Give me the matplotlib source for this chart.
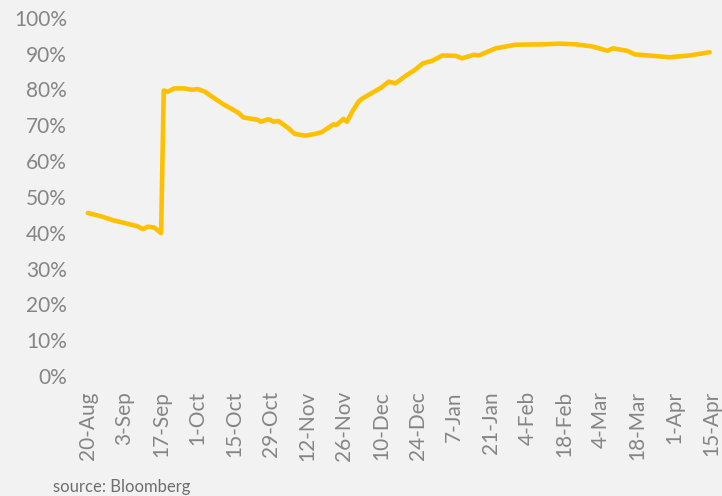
import matplotlib
matplotlib.use("Agg")
import matplotlib.pyplot as plt
import numpy as np
import pandas as pd

# Data (days after 20-Aug-2018, value in %)
day_offsets = [0, 5, 10, 13, 19, 21, 23, 25.5, 28, 29, 30.6, 33, 37, 39.6, 42, 44.7, 47,
               51.7, 57.5, 59.4, 65, 66, 69, 71, 72.8, 76.6, 79, 83, 86.9, 89.4, 93.9,
               95, 97.7, 99, 101, 103.4, 104.7, 108.5, 112, 115, 117.5, 122, 125, 128,
               131.5, 135.4, 140.5, 143, 147.5, 149.4, 155.8, 163.5, 173.7, 180, 186.5,
               192.8, 198.6, 200.5, 206, 209, 215.8, 222, 229.9, 237.5]
values = [45.5, 44.6, 43.4, 42.9, 41.8, 41.0, 41.7, 41.4, 39.9, 79.7, 79.4, 80.3, 80.3,
          79.9, 80.1, 79.4, 78.2, 75.9, 73.5, 72.2, 71.5, 71.0, 71.7, 71.0, 71.2, 69.2,
          67.6, 67.1, 67.6, 68.1, 70.3, 70.1, 71.8, 71.0, 73.8, 76.6, 77.4, 79.0, 80.5,
          82.2, 81.7, 84.1, 85.5, 87.3, 88.0, 89.5, 89.4, 88.7, 89.7, 89.5, 91.5, 92.5,
          92.6, 92.8, 92.6, 92.0, 90.8, 91.5, 90.8, 89.8, 89.4, 89.0, 89.5, 90.4]

start_date = "2018-08-20"
tick_labels = ["20-Aug", "3-Sep", "17-Sep", "1-Oct", "15-Oct", "29-Oct", "12-Nov",
               "26-Nov", "10-Dec", "24-Dec", "7-Jan", "21-Jan", "4-Feb", "18-Feb",
               "4-Mar", "18-Mar", "1-Apr", "15-Apr"]
y_ticks = [0, 10, 20, 30, 40, 50, 60, 70, 80, 90, 100]

dates = pd.Timestamp(start_date) + pd.to_timedelta(day_offsets, unit="D")
tick_dates = pd.date_range(start_date, periods=len(tick_labels), freq="14D")

bg = "#f2f2f2"
grey = "#858585"
plt.rcParams["font.family"] = ["Lato", "DejaVu Sans"]

fig = plt.figure(figsize=(7.22, 4.96), dpi=100, facecolor=bg)
ax = fig.add_axes([0.118, 0.242, 0.872, 0.722])
ax.set_facecolor(bg)

ax.plot(dates, values, color="#FFC000", lw=3.3, solid_joinstyle="round",
        solid_capstyle="round")

ax.set_ylim(0, 100)
ax.set_yticks(y_ticks)
ax.set_yticklabels([f"{v}%" for v in y_ticks])
ax.set_xlim(tick_dates[0] - pd.Timedelta(days=1), tick_dates[-1] + pd.Timedelta(days=1.5))
ax.set_xticks(tick_dates)
ax.set_xticklabels(tick_labels, rotation=90)

for s in ax.spines.values():
    s.set_visible(False)
ax.tick_params(axis="both", length=0, colors=grey, labelsize=15)
ax.tick_params(axis="y", pad=13)
ax.tick_params(axis="x", pad=11)

fig.text(0.073, 0.008, "source: Bloomberg", color="#6e6e6e", fontsize=12,
         va="baseline")

fig.savefig("out.png", dpi=100, facecolor=bg)
